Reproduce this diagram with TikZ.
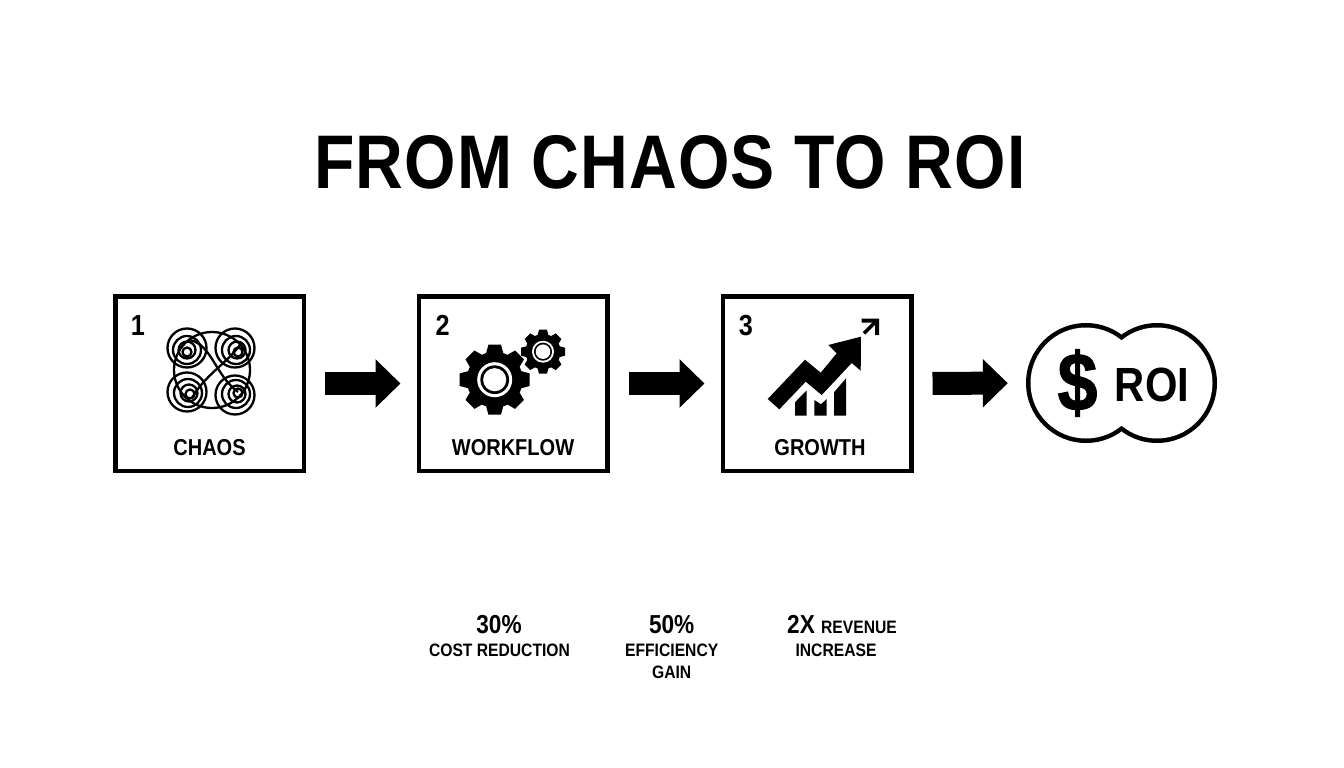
\documentclass[tikz,border=0pt]{standalone}
\usepackage{fontspec}
\setmainfont[FakeStretch=0.87]{Liberation Sans}
\usetikzlibrary{arrows.meta}
\tikzstyle{arrow} = [line width=23pt,-{Triangle[length=25pt,width=47pt]},shorten <=19pt,shorten >=16pt]
\tikzstyle{stepbox} = [draw,line width=4.5pt,minimum width=188.5pt,minimum height=174.5pt]
\tikzstyle{swirl} = [line width=2.3pt]
\tikzstyle{steplabel} = [anchor=base,inner sep=0pt,font=\bfseries\fontsize{23}{25}\selectfont]
\tikzstyle{stepnum} = [anchor=base,inner sep=0pt,font=\bfseries\fontsize{29}{31}\selectfont]
\tikzstyle{statnum} = [anchor=base,inner sep=0pt,font=\bfseries\fontsize{26}{28}\selectfont]
\tikzstyle{stattext} = [anchor=base,inner sep=0pt,font=\bfseries\fontsize{18}{20}\selectfont]
\newcommand{\cogwheel}[3]{
\fill (#1,#2) circle (0.8*#3);
\foreach \a in {0,45,...,315}
\fill[shift={(#1,#2)},rotate=\a] (-0.26*#3,0.7*#3) -- (-0.18*#3,#3) -- (0.18*#3,#3) -- (0.26*#3,0.7*#3) -- cycle;
\fill[white] (#1,#2) circle (0.5*#3);
\fill (#1,#2) circle (0.41*#3);
\fill[white] (#1,#2) circle (0.33*#3);
}
\begin{document}
\begin{tikzpicture}[x=1pt,y=-1pt]
\useasboundingbox (0,0) rectangle (1344,768);
\node[anchor=base,inner sep=0pt,font=\bfseries\fontsize{76}{80}\selectfont\addfontfeature{LetterSpace=1.5}] (title) at (670,188) {FROM CHAOS TO ROI};
% steps
\node[stepbox] (chaos) at (209.5,383.5) {};
\node[stepbox] (workflow) at (513,383.5) {};
\node[stepbox] (growth) at (817,383.5) {};
\node[stepnum] (num1) at (138,335.7) {1};
\node[stepnum] (num2) at (442.7,335.7) {2};
\node[stepnum] (num3) at (746,335.7) {3};
\node[steplabel] (chaoslabel) at (209.5,455) {CHAOS};
\node[steplabel] (workflowlabel) at (513,455) {WORKFLOW};
\node[steplabel] (growthlabel) at (820,455) {GROWTH};
% chaos icon
\draw[swirl] (212,370) circle (38);
\foreach \x/\y/\dx/\dy in {187/348/0/2,235/348/1/2,187/392/1/1,235/395/1/-1} {
\draw[swirl] (\x,\y) circle (19.5);
\draw[swirl] (\x+\dx,\y+\dy) circle (14);
\draw[swirl] (\x+2*\dx,\y+\dy) circle (8.5);
\draw[swirl] (\x+3*\dx,\y+2*\dy) circle (4.5);
}
\draw[swirl] (190,340) .. controls (212,345) and (215,375) .. (238,392);
\draw[swirl] (240,345) .. controls (225,365) and (205,375) .. (192,398);
% workflow icon
\cogwheel{494.7}{379.7}{35}
\cogwheel{543}{351.7}{22}
% growth icon
\fill (767.7,399) -- (805,359.7) -- (820.7,372.7) -- (836.7,353.3) -- (828.3,345) -- (861,336.7) -- (860.7,370.7) -- (851.7,363) -- (821.7,395) -- (805.7,381.7) -- (779.3,409.3) -- cycle;
\fill (795,402.3) -- (806.7,390.3) -- (806.7,415.7) -- (795,415.7) -- cycle;
\fill (814.3,415.7) -- (814.3,400) -- (821,404.3) -- (826.7,399) -- (826.7,415.7) -- cycle;
\fill (834,415.7) -- (834,392.3) -- (846,378.3) -- (846,415.7) -- cycle;
\draw[line width=3.5pt] (864,333.3) -- (875,322.3);
\fill (861.7,318.7) -- (879,318.7) -- (879,335) -- (875,335) -- (875,322.7) -- (861.7,322.7) -- cycle;
% roi badge
\node[minimum width=191pt,minimum height=120pt,inner sep=0pt] (roi) at (1121.5,383) {};
\fill (1086,383) circle (60) (1157,383) circle (60);
\fill[white] (1086,383) circle (55.5) (1157,383) circle (55.5);
\node[anchor=center,inner sep=0pt,font=\bfseries\fontsize{82}{84}\selectfont\addfontfeature{FakeBold=1.5}] (dollar) at (1077.5,383) {\$};
\node[anchor=base,inner sep=0pt,font=\bfseries\fontsize{48}{50}\selectfont] (roitext) at (1152,401.7) {ROI};
% arrows
\draw[arrow] (chaos) -- (workflow);
\draw[arrow] (workflow) -- (growth);
\draw[arrow,shorten >=18pt] (growth) -- (roi);
% stats
\node[statnum] (stat30) at (499,633) {30\%};
\node[stattext] (costtext) at (499.5,656) {COST REDUCTION};
\node[statnum] (stat50) at (671.7,633) {50\%};
\node[stattext] (efficiencytext) at (671.7,656) {EFFICIENCY};
\node[stattext] (gaintext) at (671.7,678) {GAIN};
\node[anchor=base,inner sep=0pt] (stat2x) at (842,633) {\bfseries\fontsize{26}{28}\selectfont 2X \fontsize{18}{20}\selectfont REVENUE};
\node[stattext] (increasetext) at (836,656) {INCREASE};
\end{tikzpicture}
\end{document}
